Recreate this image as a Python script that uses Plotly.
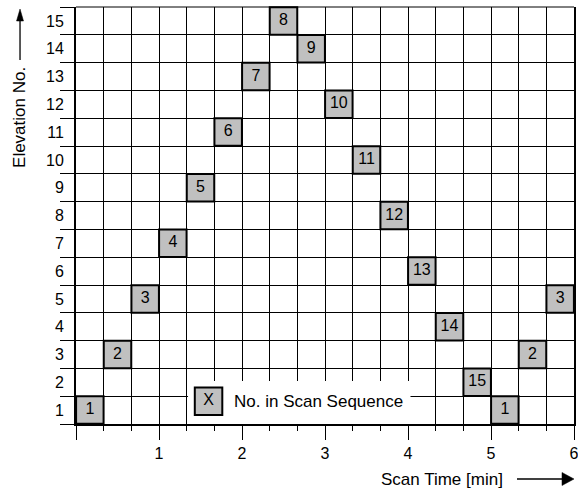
import plotly.graph_objects as go

# ---- data ----
slot_index = [0, 1, 2, 3, 4, 5, 6, 7, 8, 9, 10, 11, 12, 13, 14, 15, 16, 17]
elevation = [1, 3, 5, 7, 9, 11, 13, 15, 14, 12, 10, 8, 6, 4, 2, 1, 3, 5]
seq_no = ["1", "2", "3", "4", "5", "6", "7", "8", "9", "10", "11", "12", "13", "14", "15", "1", "2", "3"]
SLOT_MIN = 1 / 3  # duration of one elevation scan [min]

x_tickvals = [0, 1, 2, 3, 4, 5, 6]
x_ticktext = ["", "1", "2", "3", "4", "5", "6"]
y_tickvals = [1, 2, 3, 4, 5, 6, 7, 8, 9, 10, 11, 12, 13, 14, 15]

legend_label = "No. in Scan Sequence"

FONT = "Liberation Sans, Arial, Helvetica, sans-serif"
BOX_FILL = "#c0c0c0"

x_center = [(s + 0.5) * SLOT_MIN for s in slot_index]

fig = go.Figure()

fig.add_trace(go.Scatter(
    x=x_center, y=elevation, text=seq_no,
    mode="markers+text", textposition="middle center",
    marker=dict(symbol="square", size=27.5, color=BOX_FILL,
                line=dict(color="black", width=2)),
    textfont=dict(family=FONT, size=16, color="black"),
    hoverinfo="skip", cliponaxis=False,
))

# legend sample box
fig.add_trace(go.Scatter(
    x=[1.597], y=[1.317], text=["X"],
    mode="markers+text", textposition="middle center",
    marker=dict(symbol="square", size=27.5, color=BOX_FILL,
                line=dict(color="black", width=2)),
    textfont=dict(family=FONT, size=16, color="black"),
    hoverinfo="skip",
))

# white background of legend
fig.add_shape(type="rect", xref="x", yref="y", x0=1.35, x1=4.03, y0=0.5, y1=2.05,
              fillcolor="white", line=dict(width=0), layer="between")
# top border
fig.add_shape(type="line", xref="paper", yref="paper", x0=0, x1=1, y0=1, y1=1,
              line=dict(color="black", width=1))

fig.add_annotation(x=1.883, y=1.317, xref="x", yref="y", text=legend_label,
                   showarrow=False, xanchor="left", yanchor="middle",
                   font=dict(family=FONT, size=17, color="black"))

# axis titles
fig.add_annotation(x=0.7357, y=-0.132, xref="paper", yref="paper", text="Scan Time [min]",
                   showarrow=False, xanchor="center", yanchor="middle",
                   font=dict(family=FONT, size=17, color="black"))
fig.add_annotation(x=-0.1124, y=0.734, xref="paper", yref="paper", text="Elevation No.",
                   showarrow=False, textangle=-90, xanchor="center", yanchor="middle",
                   font=dict(family=FONT, size=17, color="black"))

# arrows next to the axis titles
fig.add_shape(type="line", xref="paper", yref="paper", x0=0.8855, x1=0.980, y0=-0.1319, y1=-0.1319,
              line=dict(color="black", width=1.3))
fig.add_shape(type="path", xref="paper", yref="paper",
              path="M 1.0,-0.1319 L 0.9759,-0.1163 L 0.9759,-0.1475 Z",
              fillcolor="black", line=dict(color="black", width=0.5))
fig.add_shape(type="line", xref="paper", yref="paper", x0=-0.1124, x1=-0.1124, y0=0.8729, y1=0.972,
              line=dict(color="black", width=1.3))
fig.add_shape(type="path", xref="paper", yref="paper",
              path="M -0.1124,0.9952 L -0.1194,0.9664 L -0.1054,0.9664 Z",
              fillcolor="black", line=dict(color="black", width=0.5))

fig.update_xaxes(
    range=[0, 6], tickvals=x_tickvals, ticktext=x_ticktext,
    ticks="outside", ticklen=14, tickwidth=1, tickcolor="black",
    showgrid=True, gridcolor="black", gridwidth=1,
    showline=True, linecolor="black", linewidth=2, mirror=False,
    zeroline=False, automargin=False, ticklabeloverflow="allow",
    tickfont=dict(family=FONT, size=16, color="black"),
    minor=dict(tick0=0, dtick=1 / 3, ticks="outside", ticklen=5, tickwidth=1,
               tickcolor="black", showgrid=True, gridcolor="black", gridwidth=1),
)
fig.update_yaxes(
    range=[0.5, 15.5], tickvals=y_tickvals, ticks="",
    showgrid=False, zeroline=False, automargin=False,
    showline=True, linecolor="black", linewidth=2, mirror=True,
    tickfont=dict(family=FONT, size=16, color="black"),
    ticklabelstandoff=7,
    minor=dict(tick0=0.5, dtick=1, ticks="outside", ticklen=14, tickwidth=1,
               tickcolor="black", showgrid=True, gridcolor="black", gridwidth=1),
)

fig.update_layout(
    width=578, height=488, autosize=False,
    margin=dict(l=76, r=4, t=7, b=64, autoexpand=False),
    plot_bgcolor="white", paper_bgcolor="white",
    showlegend=False,
    font=dict(family=FONT, size=16, color="black"),
)

fig.write_html("out.html",
               config={"displayModeBar": False, "responsive": False},
               post_script="document.body.style.margin='0';document.body.style.overflow='hidden';")
